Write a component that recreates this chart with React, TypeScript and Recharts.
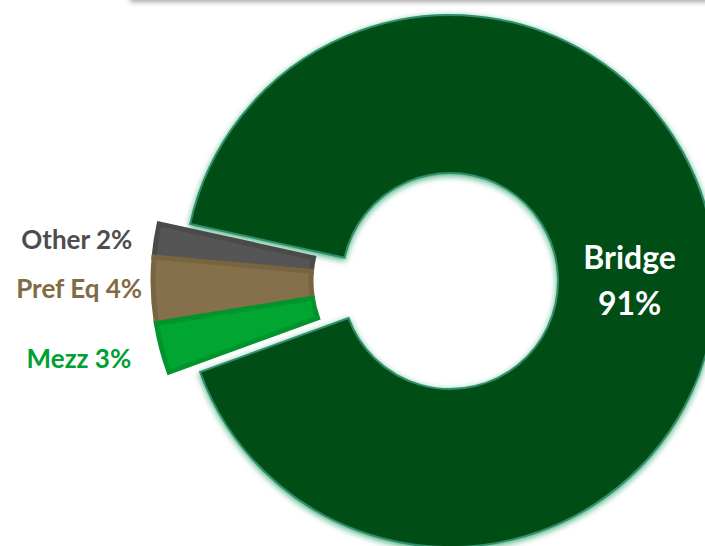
import { PieChart, Pie, Cell } from 'recharts';

const NAMES = ['Bridge', 'Other', 'Pref Eq', 'Mezz'];
const SHARES = [91, 2, 4, 3];
const FILLS = ['#064e18', '#555555', '#84704a', '#00a532'];
const EDGES = ['#2f8f6a', '#4a4a4a', '#786440', '#00952c'];
const LABEL_COLORS = ['#ffffff', '#4d4d4d', '#7f6b46', '#00a032'];

const data = NAMES.map((name, i) => ({ name, value: SHARES[i] }));

const RAD = Math.PI / 180;
const FONT = 'Lato, "Open Sans", sans-serif';

// Bridge label sits inside the ring, two lines
function bridgeLabel(p: any) {
  if (p.name !== 'Bridge') return null;
  const r = (p.innerRadius + p.outerRadius) / 2 - 7;
  const x = p.cx + r * Math.cos(-p.midAngle * RAD);
  const y = p.cy + r * Math.sin(-p.midAngle * RAD);
  return (
    <text x={x} y={y} fill="#fff" textAnchor="middle" fontFamily={FONT} fontWeight={700} fontSize={32}>
      <tspan x={x} dy={0}>{p.name}</tspan>
      <tspan x={x} dy={46}>{`${p.value}%`}</tspan>
    </text>
  );
}

// small nudges so the outside labels sit where the original put them
const NUDGE: Record<string, [number, number]> = {
  Other: [-4, 3],
  'Pref Eq': [9, -2],
  Mezz: [-11, 6],
};

// the small slices get their labels out to the left
function sideLabel(p: any) {
  if (p.name === 'Bridge') return null;
  const r = p.outerRadius + 20;
  const [nx, ny] = NUDGE[p.name] || [0, 0];
  const x = p.cx + r * Math.cos(-p.midAngle * RAD) + nx;
  const y = p.cy + r * Math.sin(-p.midAngle * RAD) + ny;
  const idx = NAMES.indexOf(p.name);
  return (
    <text x={x} y={y} dy={9} fill={LABEL_COLORS[idx]} textAnchor="end" fontFamily={FONT} fontWeight={700} fontSize={26}>
      {`${p.name} ${p.value}%`}
    </text>
  );
}

export default function App() {
  return (
    <div style={{ position: 'absolute', left: 0, top: 0, width: 705, height: 546, overflow: 'hidden', background: '#fff' }}>
      <div
        style={{
          position: 'absolute',
          left: 130,
          top: -10,
          width: 620,
          height: 10,
          background: '#fff',
          boxShadow: '0 2px 5px rgba(0,0,0,0.35)',
        }}
      />
      <PieChart width={705} height={546}>
        <defs>
          <filter id="glow" x="-10%" y="-10%" width="120%" height="120%">
            <feDropShadow dx={0} dy={2} stdDeviation={3} floodColor="#1f9a5a" floodOpacity={0.8} />
          </filter>
        </defs>
        <Pie
          data={data}
          dataKey="value"
          nameKey="name"
          cx={445}
          cy={276}
          innerRadius={108}
          outerRadius={266}
          startAngle={200}
          endAngle={560}
          isAnimationActive={false}
          label={bridgeLabel}
          labelLine={false}
        >
          {data.map((d, i) => (
            <Cell
              key={d.name}
              fill={i === 0 ? FILLS[0] : 'none'}
              stroke={i === 0 ? EDGES[0] : 'none'}
              strokeWidth={2}
              filter={i === 0 ? 'url(#glow)' : undefined}
            />
          ))}
        </Pie>
        <Pie
          data={data}
          dataKey="value"
          nameKey="name"
          cx={414}
          cy={276}
          innerRadius={108}
          outerRadius={266}
          startAngle={200}
          endAngle={560}
          isAnimationActive={false}
          label={sideLabel}
          labelLine={false}
        >
          {data.map((d, i) => (
            <Cell
              key={d.name}
              fill={i === 0 ? 'none' : FILLS[i]}
              stroke={i === 0 ? 'none' : EDGES[i]}
              strokeWidth={5}
            />
          ))}
        </Pie>
      </PieChart>
    </div>
  );
}
